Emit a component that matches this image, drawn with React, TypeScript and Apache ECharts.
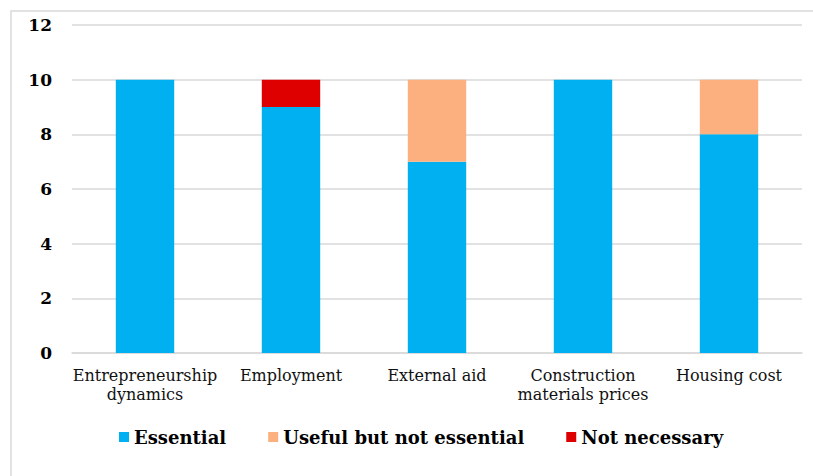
import React, { useEffect, useRef } from "react";
import * as echarts from "echarts";

const categories = [
  "Entrepreneurship\ndynamics",
  "Employment",
  "External aid",
  "Construction\nmaterials prices",
  "Housing cost",
];
const essential = [10, 9, 7, 10, 8];
const useful = [0, 0, 3, 0, 2];
const notNecessary = [0, 1, 0, 0, 0];
const seriesNames = ["Essential", "Useful but not essential", "Not necessary"];
const colors = ["#00B0F0", "#FCB07F", "#DE0000"];

export default function App() {
  const ref = useRef<HTMLDivElement>(null);
  useEffect(() => {
    if (!ref.current) return;
    const chart = echarts.init(ref.current, null, { renderer: "svg" });
    const font = "'DejaVu Serif', Georgia, serif";
    const data = [essential, useful, notNecessary];
    chart.setOption({
      animation: false,
      backgroundColor: "#ffffff",
      graphic: [
        {
          type: "rect",
          shape: { x: 11, y: 11, width: 830, height: 500 },
          style: { fill: "none", stroke: "#D9D9D9", lineWidth: 1.5 },
          silent: true,
        },
      ],
      grid: { left: 72, right: 11, top: 25, bottom: 123, containLabel: false },
      legend: {
        left: 114,
        top: 423,
        itemWidth: 10,
        itemHeight: 10,
        itemGap: 42,
        icon: "rect",
        textStyle: { fontFamily: font, fontWeight: "bold", fontSize: 18, color: "#000" },
        data: seriesNames,
      },
      xAxis: {
        type: "category",
        data: categories,
        axisLine: { lineStyle: { color: "#D9D9D9", width: 1.5 } },
        axisTick: { show: false },
        axisLabel: {
          fontFamily: font,
          fontSize: 16,
          color: "#111",
          margin: 13,
          lineHeight: 19,
          interval: 0,
        },
      },
      yAxis: {
        type: "value",
        min: 0,
        max: 12,
        interval: 2,
        axisLine: { show: false },
        axisTick: { show: false },
        splitLine: { lineStyle: { color: "#D9D9D9", width: 1.5 } },
        axisLabel: {
          fontFamily: font,
          fontSize: 17,
          fontWeight: "bold",
          color: "#000",
          margin: 20,
        },
      },
      series: seriesNames.map((name, i) => ({
        name,
        type: "bar",
        stack: "total",
        barWidth: "40%",
        data: data[i],
        itemStyle: { color: colors[i] },
      })),
    });
    return () => chart.dispose();
  }, []);
  return (
    <div
      ref={ref}
      style={{ position: "fixed", left: 0, top: 0, width: 813, height: 476 }}
    />
  );
}
